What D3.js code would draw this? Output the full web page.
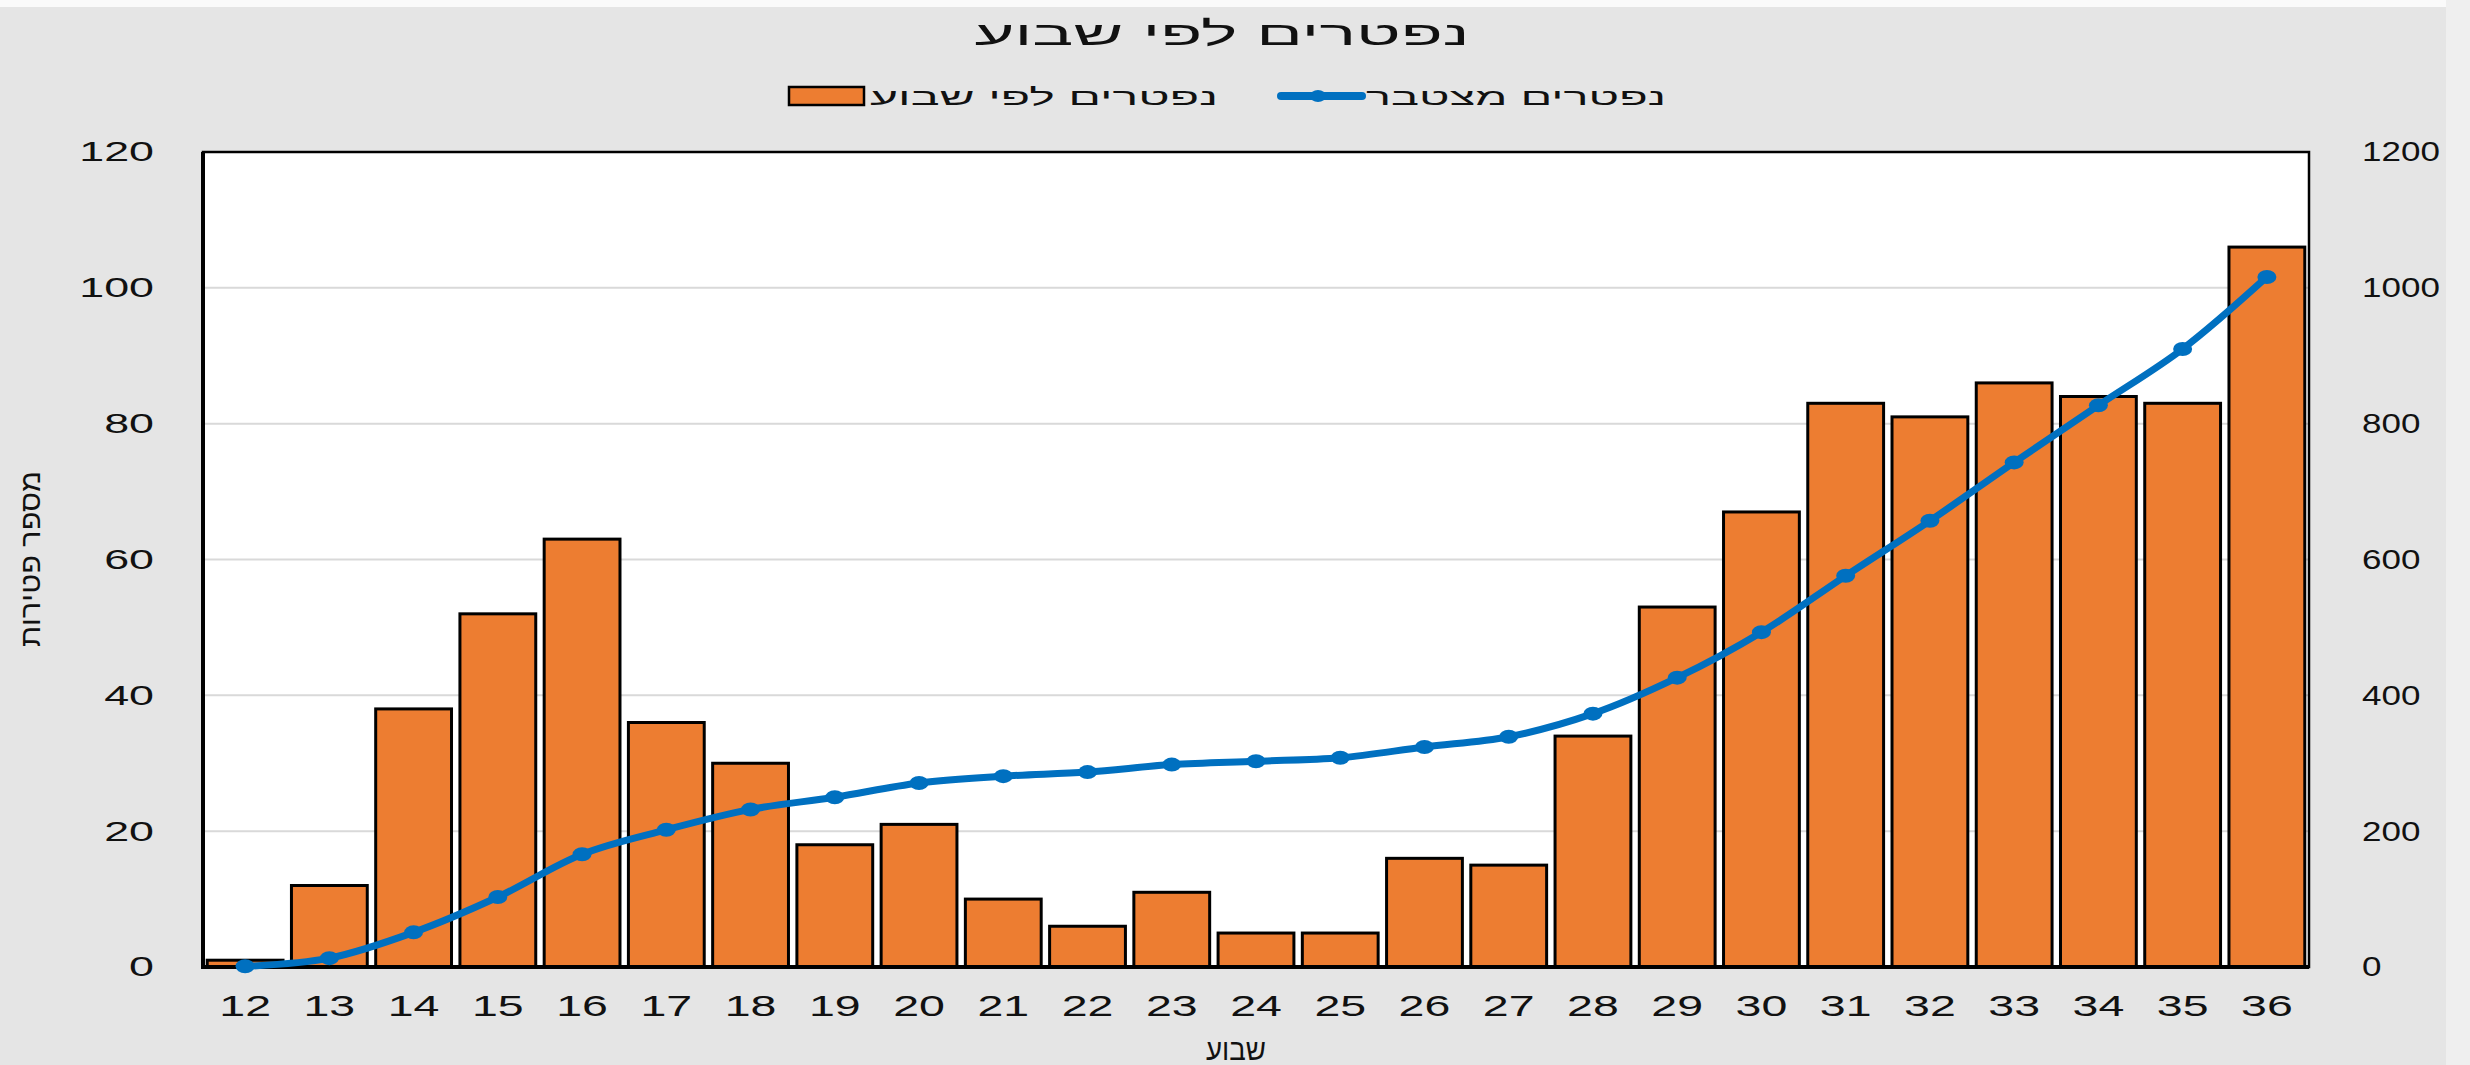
<!DOCTYPE html>
<html>
<head>
<meta charset="utf-8">
<script src="https://cdn.jsdelivr.net/npm/d3@7"></script>
<style>
  html, body { margin: 0; padding: 0; background: #e5e5e5; }
  svg { display: block; }
  text { font-family: "Liberation Sans", Arial, sans-serif; fill: #111; }
</style>
</head>
<body>
<svg id="chart" width="2470" height="1065"></svg>
<script>
// ---- data ----
const weeks = ["12","13","14","15","16","17","18","19","20","21","22","23","24","25","26","27","28","29","30","31","32","33","34","35","36"];
const weeklyDeaths = [1,12,38,52,63,36,30,18,21,10,6,11,5,5,16,15,34,53,67,83,81,86,84,83,106];
const cumulativeDeaths = [1,13,51,103,166,202,232,250,271,281,287,298,303,308,324,339,373,426,493,576,657,743,827,910,1016];
const leftTicks = [0,20,40,60,80,100,120];
const rightTicks = [0,200,400,600,800,1000,1200];
const titleText = "נפטרים לפי שבוע";
const barSeriesName = "נפטרים לפי שבוע";
const lineSeriesName = "נפטרים מצטבר";
const yTitleText = "מספר פטירות";
const xTitleText = "שבוע";

// ---- layout ----
const W = 2470, H = 1065;
const plot = { left: 203, right: 2309, top: 152, bottom: 967 };
const orange = "#ED7D31", blue = "#0070C0";

const svg = d3.select("#chart");

// background + screenshot edges
svg.append("rect").attr("x",0).attr("y",0).attr("width",W).attr("height",H).attr("fill","#e5e5e5");
svg.append("rect").attr("x",0).attr("y",0).attr("width",W).attr("height",7).attr("fill","#fafafa");
svg.append("rect").attr("x",2446).attr("y",0).attr("width",24).attr("height",H).attr("fill","#efefef");

function stretch(sel, k) {
  sel.each(function() {
    const w = this.getComputedTextLength();
    d3.select(this).attr("textLength", w * k).attr("lengthAdjust", "spacingAndGlyphs");
  });
}
function fitWidth(sel, w) {
  sel.attr("textLength", w).attr("lengthAdjust", "spacingAndGlyphs");
}

// scales
const x = d3.scaleBand().domain(weeks).range([plot.left, plot.right]).paddingInner(0.1).paddingOuter(0.05);
const yL = d3.scaleLinear().domain([0,120]).range([plot.bottom, plot.top]);
const yR = d3.scaleLinear().domain([0,1200]).range([plot.bottom, plot.top]);

// plot background
svg.append("rect").attr("x",plot.left).attr("y",plot.top)
  .attr("width",plot.right-plot.left).attr("height",plot.bottom-plot.top).attr("fill","#fff");

// gridlines
svg.append("g").selectAll("line").data(leftTicks.filter(d => d>0 && d<120)).join("line")
  .attr("x1",plot.left).attr("x2",plot.right)
  .attr("y1",d=>yL(d)).attr("y2",d=>yL(d))
  .attr("stroke","#d9d9d9").attr("stroke-width",2);

// bars
svg.append("g").selectAll("rect").data(weeks.map((w,i)=>({w, v: weeklyDeaths[i]}))).join("rect")
  .attr("x",d=>x(d.w)).attr("width",x.bandwidth())
  .attr("y",d=>yL(d.v)).attr("height",d=>yL(0)-yL(d.v))
  .attr("fill",orange).attr("stroke","#000").attr("stroke-width",3);

// plot border
svg.append("rect").attr("x",plot.left).attr("y",plot.top)
  .attr("width",plot.right-plot.left).attr("height",plot.bottom-plot.top)
  .attr("fill","none").attr("stroke","#000").attr("stroke-width",2.5);
svg.append("line").attr("x1",plot.left).attr("x2",plot.left).attr("y1",plot.top).attr("y2",plot.bottom+2)
  .attr("stroke","#000").attr("stroke-width",4);
svg.append("line").attr("x1",plot.left).attr("x2",plot.right).attr("y1",plot.bottom).attr("y2",plot.bottom)
  .attr("stroke","#000").attr("stroke-width",4);

// cumulative line
const pts = weeks.map((w,i)=>({w, v: cumulativeDeaths[i]}));
const line = d3.line().x(d=>x(d.w)+x.bandwidth()/2).y(d=>yR(d.v)).curve(d3.curveCatmullRom.alpha(0.5));
svg.append("path").datum(pts).attr("d",line).attr("fill","none")
  .attr("stroke",blue).attr("stroke-width",7).attr("stroke-linecap","round").attr("stroke-linejoin","round");
svg.append("g").selectAll("ellipse").data(pts).join("ellipse")
  .attr("cx",d=>x(d.w)+x.bandwidth()/2).attr("cy",d=>yR(d.v))
  .attr("rx",9.5).attr("ry",7).attr("fill",blue);

// left axis
const gL = svg.append("g").attr("transform",`translate(${plot.left},0)`)
  .call(d3.axisLeft(yL).tickValues(leftTicks).tickFormat(d3.format("d")).tickSize(0).tickPadding(49));
gL.select(".domain").remove();
gL.selectAll("text").style("font-size","28px").style("font-family","Liberation Sans, Arial, sans-serif").attr("fill","#111");
stretch(gL.selectAll("text"), 1.6);

// right axis
const gR = svg.append("g").attr("transform",`translate(${plot.right},0)`)
  .call(d3.axisRight(yR).tickValues(rightTicks).tickFormat(d3.format("d")).tickSize(0).tickPadding(53));
gR.select(".domain").remove();
gR.selectAll("text").style("font-size","28px").style("font-family","Liberation Sans, Arial, sans-serif").attr("fill","#111");
stretch(gR.selectAll("text"), 1.25);

// bottom axis
const gB = svg.append("g").attr("transform",`translate(0,${plot.bottom})`)
  .call(d3.axisBottom(x).tickSize(0).tickPadding(28));
gB.select(".domain").remove();
gB.selectAll("text").style("font-size","30px").style("font-family","Liberation Sans, Arial, sans-serif").attr("fill","#111");
stretch(gB.selectAll("text"), 1.55);

// title
const t = svg.append("text").attr("x",1222).attr("y",45).attr("text-anchor","middle")
  .style("font-size","34px").text(titleText);
fitWidth(t, 495);

// legend
svg.append("rect").attr("x",789).attr("y",87).attr("width",75).attr("height",18)
  .attr("fill",orange).attr("stroke","#000").attr("stroke-width",2.5);
const l1 = svg.append("text").attr("x",870).attr("y",105).attr("text-anchor","start")
  .style("font-size","24px").text(barSeriesName);
fitWidth(l1, 348);
svg.append("line").attr("x1",1281).attr("x2",1362).attr("y1",96).attr("y2",96)
  .attr("stroke",blue).attr("stroke-width",8).attr("stroke-linecap","round");
svg.append("ellipse").attr("cx",1318).attr("cy",96).attr("rx",8).attr("ry",6).attr("fill",blue);
const l2 = svg.append("text").attr("x",1366).attr("y",105).attr("text-anchor","start")
  .style("font-size","24px").text(lineSeriesName);
fitWidth(l2, 300);

// axis titles
const yt = svg.append("text").attr("transform","translate(40,559) rotate(-90)").attr("text-anchor","middle")
  .style("font-size","28px").text(yTitleText);
fitWidth(yt, 176);
const xt = svg.append("text").attr("x",1236).attr("y",1060).attr("text-anchor","middle")
  .style("font-size","30px").text(xTitleText);
fitWidth(xt, 60);
</script>
</body>
</html>
